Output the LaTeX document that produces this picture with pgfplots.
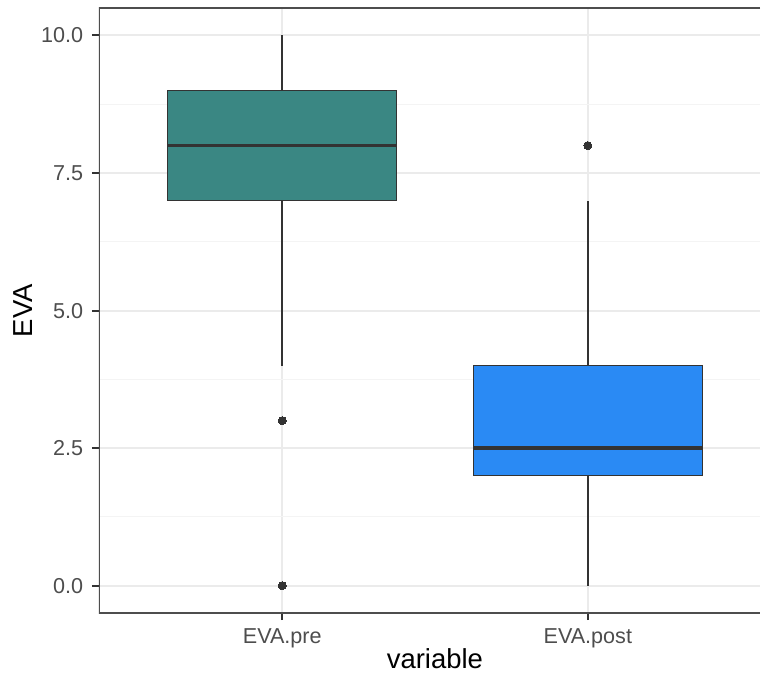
\documentclass[border=0pt]{standalone}
\usepackage{fontspec}
\setmainfont{Liberation Sans}
\usepackage{pgfplots}
\pgfplotsset{compat=1.18}
\usepgfplotslibrary{statistics}
\definecolor{tealbox}{HTML}{3A8783}
\definecolor{bluebox}{HTML}{2A8AF4}
\definecolor{g20}{HTML}{333333}
\definecolor{g30}{HTML}{4D4D4D}
\definecolor{g92}{HTML}{EBEBEB}
\definecolor{g96}{HTML}{F4F4F4}
\begin{document}
\begin{tikzpicture}
\path (0,0) rectangle (304.4pt,271.2pt);
\begin{axis}[
 at={(39.6pt,25.6pt)}, anchor=south west,
 scale only axis, width=264.8pt, height=242.4pt,
 xmin=0.4, xmax=2.5634, ymin=-0.5, ymax=10.5,
 xtick={1,2}, xticklabels={EVA.pre,EVA.post},
 ytick={0,2.5,5,7.5,10}, yticklabels={0.0,2.5,5.0,7.5,10.0},
 minor ytick={1.25,3.75,6.25,8.75},
 xmajorgrids, ymajorgrids, yminorgrids,
 major grid style={draw=g92, line width=0.8pt},
 minor grid style={draw=g96, line width=0.4pt},
 axis line style={draw=none},
 tick align=outside, major tick length=2.8pt, minor tick length=0pt,
 xtick pos=bottom, ytick pos=left,
 tick style={draw=g20, line width=0.8pt},
 tick label style={font=\fontsize{8.64}{10}\selectfont, text=g30},
 xlabel={variable}, ylabel={EVA},
 label style={font=\fontsize{11}{13}\selectfont, text=black},
 xlabel style={at={(axis description cs:0.5,0)}, yshift=-18.4pt, anchor=center, xshift=2.2pt},
 ylabel style={at={(axis description cs:0,0.5)}, yshift=30.4pt, anchor=center},
 boxplot/draw direction=y,
]
\addplot[draw=g20, line width=0.5pt, mark=*, mark size=1.6pt,
  mark options={fill=g20, draw=g20, line width=0pt},
  boxplot prepared={draw position=1, lower whisker=4, lower quartile=7,
    median=8, upper quartile=9, upper whisker=10, box extend=0.75, whisker extend=0,
    every box/.style={fill=tealbox, draw=g20, line width=0.5pt},
    every median/.style={draw=g20, line width=1.4pt},
    every whisker/.style={draw=g20, line width=0.6pt}}]
  coordinates {(0,3) (0,0)};
\addplot[draw=g20, line width=0.5pt, mark=*, mark size=1.6pt,
  mark options={fill=g20, draw=g20, line width=0pt},
  boxplot prepared={draw position=2, lower whisker=0, lower quartile=2,
    median=2.5, upper quartile=4, upper whisker=7, box extend=0.75, whisker extend=0,
    every box/.style={fill=bluebox, draw=g20, line width=0.5pt},
    every median/.style={draw=g20, line width=1.4pt},
    every whisker/.style={draw=g20, line width=0.6pt}}]
  coordinates {(0,8)};
\draw[g30, line width=0.8pt] (rel axis cs:1,1) -- (rel axis cs:0,1) -- (rel axis cs:0,0) -- (rel axis cs:1,0);
\end{axis}
\end{tikzpicture}
\end{document}
